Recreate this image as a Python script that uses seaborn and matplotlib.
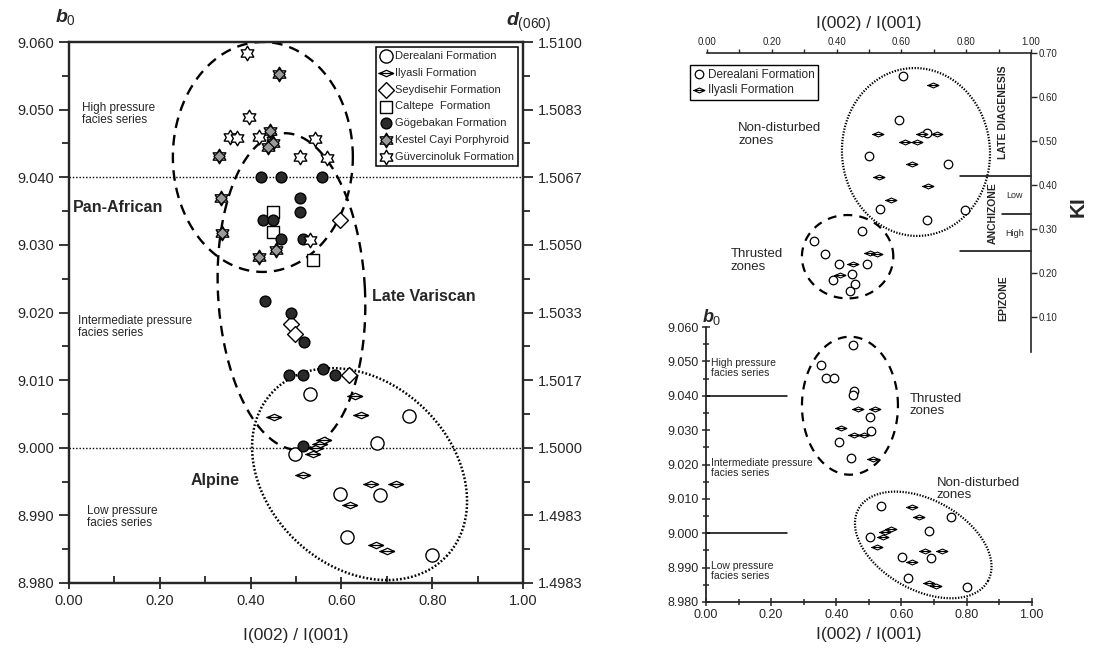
import numpy as np
import matplotlib
matplotlib.use('Agg')
import matplotlib.pyplot as plt
from matplotlib.path import Path
from matplotlib.ticker import MultipleLocator, FormatStrFormatter, FixedLocator, FixedFormatter
import seaborn as sns

sns.set_style('ticks')
plt.rcParams['font.family'] = ['Liberation Sans', 'DejaVu Sans']
plt.rcParams['mathtext.fontset'] = 'custom'
plt.rcParams['mathtext.it'] = 'Liberation Sans:italic:bold'
plt.rcParams['mathtext.rm'] = 'Liberation Sans'

# ---- left panel: b0 vs I(002)/I(001) ----
der_x = [0.531, 0.497, 0.598, 0.613, 0.748, 0.679, 0.685, 0.800]
der_y = [9.0080, 8.9991, 8.9932, 8.9868, 9.0047, 9.0007, 8.9930, 8.9842]
ily_x = [0.452, 0.515, 0.538, 0.545, 0.553, 0.562, 0.619, 0.630, 0.644, 0.666, 0.720, 0.676, 0.701]
ily_y = [9.0046, 8.9959, 8.9991, 9.0000, 9.0005, 9.0012, 8.9916, 9.0077, 9.0048, 8.9946, 8.9946, 8.9856, 8.9848]
sey_x = [0.597, 0.489, 0.497, 0.616]
sey_y = [9.0337, 9.0183, 9.0168, 9.0107]
cal_x = [0.449, 0.449, 0.537]
cal_y = [9.0349, 9.0319, 9.0277]
gog_x = [0.424, 0.468, 0.557, 0.509, 0.509, 0.427, 0.450, 0.468, 0.516, 0.432, 0.488,
         0.518, 0.484, 0.515, 0.559, 0.585, 0.515]
gog_y = [9.0401, 9.0401, 9.0401, 9.0370, 9.0349, 9.0337, 9.0337, 9.0308, 9.0308, 9.0217, 9.0199,
         9.0157, 9.0107, 9.0107, 9.0116, 9.0108, 9.0003]
kes_x = [0.462, 0.330, 0.443, 0.449, 0.438, 0.334, 0.337, 0.456, 0.419]
kes_y = [9.0552, 9.0431, 9.0468, 9.0451, 9.0444, 9.0370, 9.0318, 9.0293, 9.0282]
guv_x = [0.391, 0.397, 0.355, 0.371, 0.419, 0.541, 0.509, 0.569, 0.531]
guv_y = [9.0583, 9.0489, 9.0459, 9.0458, 9.0460, 9.0457, 9.0430, 9.0428, 9.0307]

b0_ticks = [8.980, 8.990, 9.000, 9.010, 9.020, 9.030, 9.040, 9.050, 9.060]
d060_labels = ['1.4983', '1.4983', '1.5000', '1.5017', '1.5033', '1.5050', '1.5067', '1.5083', '1.5100']

# ---- top right: KI vs I(002)/I(001) ----
tder_x = [0.606, 0.594, 0.499, 0.744, 0.534, 0.680, 0.795, 0.678, 0.478, 0.330, 0.365,
          0.406, 0.448, 0.388, 0.456, 0.441, 0.493]
tder_ki = [0.648, 0.547, 0.467, 0.448, 0.346, 0.320, 0.343, 0.519, 0.296, 0.273, 0.243,
           0.221, 0.197, 0.183, 0.174, 0.160, 0.221]
tily_x = [0.697, 0.528, 0.610, 0.647, 0.664, 0.709, 0.633, 0.530, 0.682, 0.569, 0.503,
          0.524, 0.450, 0.410]
tily_ki = [0.627, 0.517, 0.498, 0.498, 0.516, 0.516, 0.448, 0.419, 0.398, 0.367, 0.246,
           0.243, 0.221, 0.195]
ki_ticks = [0.10, 0.20, 0.30, 0.40, 0.50, 0.60, 0.70]

# ---- bottom right: b0 vs I(002)/I(001) ----
bder_x = [0.450, 0.352, 0.368, 0.393, 0.454, 0.450, 0.504, 0.506, 0.409, 0.444,
          0.536, 0.751, 0.684, 0.504, 0.602, 0.692, 0.620, 0.802]
bder_y = [9.0547, 9.0489, 9.0452, 9.0452, 9.0413, 9.0401, 9.0339, 9.0297, 9.0265, 9.0219,
          9.0079, 9.0046, 9.0007, 8.9990, 8.9932, 8.9928, 8.9870, 8.9843]
bily_x = [0.467, 0.520, 0.414, 0.454, 0.485, 0.512, 0.633, 0.653, 0.569, 0.551, 0.542,
          0.524, 0.671, 0.725, 0.633, 0.686, 0.706]
bily_y = [9.0362, 9.0362, 9.0306, 9.0287, 9.0287, 9.0217, 9.0076, 9.0046, 9.0013, 9.0004, 8.9990,
          8.9959, 8.9947, 8.9947, 8.9916, 8.9854, 8.9847]

# markers
lens = Path([(-1, 0), (0, 0.45), (1, 0), (0, -0.45), (-1, 0), (-1.15, 0), (1.0, 0)],
            [Path.MOVETO, Path.LINETO, Path.LINETO, Path.LINETO, Path.CLOSEPOLY,
             Path.MOVETO, Path.LINETO])
hexa = Path.unit_regular_star(6, 0.58)

W, H = 1093, 653
fig = plt.figure(figsize=(W / 100, H / 100), dpi=100)


def ring(ax, cx, cy, a, b, ang, ppx, ppy, dashes, lw=1.7):
    # ellipse with semi-axes a, b given in pixels, rotated by ang degrees
    t = np.linspace(0, 2 * np.pi, 400)
    r = np.deg2rad(ang)
    dx = a * np.cos(t) * np.cos(r) - b * np.sin(t) * np.sin(r)
    dy = a * np.cos(t) * np.sin(r) + b * np.sin(t) * np.cos(r)
    ax.plot(cx + dx / ppx, cy + dy / ppy, color='k', lw=lw, dashes=dashes, zorder=2)


def pts(ax, x, y, marker, s, fc='white', lw=1.0, label=None, z=3):
    sns.scatterplot(x=x, y=y, ax=ax, marker=marker, s=s, facecolor=fc, edgecolor='k',
                    linewidth=lw, label=label, legend=False, zorder=z)
    return ax.collections[-1]


# ================= left panel =================
ax = fig.add_axes([69 / W, 1 - 583 / H, 454 / W, 541 / H])
ax.set_xlim(0, 1)
ax.set_ylim(8.98, 9.06)
ppx, ppy = 454.0, 541 / 0.08

ax.axhline(9.04, color='k', lw=1.0, dashes=(1, 1.4), zorder=1)
ax.axhline(9.00, color='k', lw=1.0, dashes=(1, 1.4), zorder=1)
ring(ax, 0.427, 9.043, 90, 115, 0, ppx, ppy, (4.5, 3))
ring(ax, 0.490, 9.0231, 73.5, 158.5, 3, ppx, ppy, (4.5, 3))
ring(ax, 0.640, 8.9961, 119.6, 92.1, -43.4, ppx, ppy, (0.7, 0.8), lw=1.8)

h_der = pts(ax, der_x, der_y, 'o', 90, label='Derealani Formation')
h_ily = pts(ax, ily_x, ily_y, lens, 140, lw=0.9, label='Ilyasli Formation')
h_sey = pts(ax, sey_x, sey_y, 'D', 65, label='Seydisehir Formation')
h_cal = pts(ax, cal_x, cal_y, 's', 80, label='Caltepe  Formation')
h_gog = pts(ax, gog_x, gog_y, 'o', 60, fc='#2a2a2a', label='Gögebakan Formation')
h_kes1 = pts(ax, kes_x, kes_y, hexa, 110)
h_kes2 = pts(ax, kes_x, kes_y, 'D', 32, fc='#9a9a9a', lw=0.8, z=4)
h_guv = pts(ax, guv_x, guv_y, hexa, 110, label='Güvercinoluk Formation')

ax.legend([h_der, h_ily, h_sey, h_cal, h_gog, (h_kes1, h_kes2), h_guv],
          ['Derealani Formation', 'Ilyasli Formation', 'Seydisehir Formation',
           'Caltepe  Formation', 'Gögebakan Formation', 'Kestel Cayi Porphyroid',
           'Güvercinoluk Formation'],
          loc='upper right', bbox_to_anchor=(0.989, 0.991), fontsize=8, frameon=True,
          fancybox=False, edgecolor='k', framealpha=1, borderpad=0.35, labelspacing=0.62,
          handletextpad=0.25, handlelength=1.1, borderaxespad=0)
ax.get_legend().get_frame().set_linewidth(1.1)

ax.text(0.029, 9.0494, 'High pressure\nfacies series', fontsize=8.5, va='center', linespacing=1.0)
ax.text(0.009, 9.0355, 'Pan-African', fontsize=11.5, fontweight='bold', va='center')
ax.text(0.020, 9.0179, 'Intermediate pressure\nfacies series', fontsize=8.5, va='center', linespacing=1.0)
ax.text(0.667, 9.0224, 'Late Variscan', fontsize=11.5, fontweight='bold', va='center')
ax.text(0.267, 8.9951, 'Alpine', fontsize=11.5, fontweight='bold', va='center')
ax.text(0.040, 8.9898, 'Low pressure\nfacies series', fontsize=8.5, va='center', linespacing=1.0)

ax.xaxis.set_major_locator(MultipleLocator(0.2))
ax.xaxis.set_minor_locator(MultipleLocator(0.1))
ax.xaxis.set_major_formatter(FormatStrFormatter('%.2f'))
ax.yaxis.set_major_locator(FixedLocator(b0_ticks))
ax.yaxis.set_minor_locator(MultipleLocator(0.005))
ax.yaxis.set_major_formatter(FormatStrFormatter('%.3f'))
ax.tick_params(axis='x', which='major', direction='inout', length=8, width=1.3, labelsize=10.5, pad=4)
ax.tick_params(axis='x', which='minor', direction='in', length=5, width=1.3)
ax.tick_params(axis='y', which='major', direction='out', length=7, width=1.3, labelsize=10.5)
ax.tick_params(axis='y', which='minor', direction='out', length=5, width=1.3)
for sp in ax.spines.values():
    sp.set_linewidth(1.6)
ax.set_xlabel('I(002) / I(001)', fontsize=12.5, labelpad=14)

ax2 = ax.twinx()
ax2.set_ylim(ax.get_ylim())
ax2.yaxis.set_major_locator(FixedLocator(b0_ticks))
ax2.yaxis.set_major_formatter(FixedFormatter(d060_labels))
ax2.yaxis.set_minor_locator(MultipleLocator(0.005))
ax2.tick_params(axis='y', which='major', direction='out', length=7, width=1.3, labelsize=10.5)
ax2.tick_params(axis='y', which='minor', direction='out', length=5, width=1.3)
for sp in ax2.spines.values():
    sp.set_linewidth(1.6)

fig.text(65 / W, 1 - 17 / H, r'$b_0$', fontsize=14, ha='center', va='center')
fig.text(528 / W, 1 - 22 / H, r'$d_{(060)}$', fontsize=14, ha='center', va='center')

# ================= top right panel =================
axt = fig.add_axes([707 / W, 1 - 361 / H, 324 / W, 308 / H])
axt.patch.set_alpha(0)
axt.set_xlim(0, 1)
axt.set_ylim(0, 0.70)
tpx, tpy = 324.0, 308 / 0.70
ring(axt, 0.645, 0.475, 74, 84, 4, tpx, tpy, (0.6, 0.7), lw=1.6)
ring(axt, 0.434, 0.237, 45.7, 41.7, 0, tpx, tpy, (4.0, 3.2), lw=1.6)

t_der = pts(axt, tder_x, tder_ki, 'o', 38, lw=0.9)
t_ily = pts(axt, tily_x, tily_ki, lens, 80, lw=0.8)
axt.legend([t_der, t_ily], ['Derealani Formation', 'Ilyasli Formation'], loc='upper left',
           bbox_to_anchor=(690 / W, 1 - 65 / H), bbox_transform=fig.transFigure, fontsize=8.5,
           frameon=True, fancybox=False, edgecolor='k', framealpha=1, borderpad=0.3,
           labelspacing=0.3, handletextpad=0.2, handlelength=1.0, borderaxespad=0)
axt.get_legend().get_frame().set_linewidth(1.0)

axt.text(0.096, 0.515, 'Non-disturbed\nzones', fontsize=9.5, va='center', linespacing=1.05)
axt.text(0.074, 0.228, 'Thrusted\nzones', fontsize=9.5, va='center', linespacing=1.05)
axt.plot([0.78, 1.0], [0.42, 0.42], color='k', lw=1.1, clip_on=False)
axt.plot([0.91, 1.0], [0.335, 0.335], color='k', lw=1.1, clip_on=False)
axt.plot([0.78, 1.0], [0.25, 0.25], color='k', lw=1.1, clip_on=False)
axt.text(0.914, 0.565, 'LATE DIAGENESIS', fontsize=7.5, fontweight='bold', rotation=90,
         ha='center', va='center')
axt.text(0.883, 0.337, 'ANCHIZONE', fontsize=7.5, fontweight='bold', rotation=90,
         ha='center', va='center')
axt.text(0.950, 0.377, 'Low', fontsize=6.5, ha='center', va='center')
axt.text(0.950, 0.289, 'High', fontsize=6.5, ha='center', va='center')
axt.text(0.914, 0.142, 'EPIZONE', fontsize=7.5, fontweight='bold', rotation=90,
         ha='center', va='center')

axt.spines['left'].set_visible(False)
axt.spines['bottom'].set_visible(False)
axt.spines['right'].set_bounds(0.02, 0.70)
axt.xaxis.tick_top()
axt.xaxis.set_label_position('top')
axt.yaxis.tick_right()
axt.yaxis.set_label_position('right')
axt.xaxis.set_major_locator(MultipleLocator(0.2))
axt.xaxis.set_minor_locator(MultipleLocator(0.1))
axt.xaxis.set_major_formatter(FormatStrFormatter('%.2f'))
axt.yaxis.set_major_locator(FixedLocator(ki_ticks))
axt.yaxis.set_major_formatter(FormatStrFormatter('%.2f'))
axt.tick_params(axis='x', which='both', direction='out', length=3, width=1.0, labelsize=7, pad=1.5)
axt.tick_params(axis='y', which='both', direction='out', length=4, width=1.0, labelsize=7, pad=1.5)
for sp in axt.spines.values():
    sp.set_linewidth(1.2)
axt.set_xlabel('I(002) / I(001)', fontsize=12.5, labelpad=6)
axt.set_ylabel('KI', fontsize=15, fontweight='bold', labelpad=8)

# ================= bottom right panel =================
axb = fig.add_axes([706 / W, 1 - 602 / H, 325.7 / W, 275 / H])
axb.patch.set_alpha(0)
axb.set_xlim(0, 1)
axb.set_ylim(8.98, 9.06)
bpx, bpy = 325.7, 275 / 0.08
ring(axb, 0.442, 9.0371, 48, 69, 0, bpx, bpy, (4.0, 3.2), lw=1.6)
ring(axb, 0.667, 8.9966, 74.1, 44.9, -29.2, bpx, bpy, (0.6, 0.7), lw=1.6)
axb.plot([0, 0.25], [9.04, 9.04], color='k', lw=1.1)
axb.plot([0, 0.25], [9.00, 9.00], color='k', lw=1.1)

pts(axb, bder_x, bder_y, 'o', 38, lw=0.9)
pts(axb, bily_x, bily_y, lens, 80, lw=0.8)

axb.text(0.015, 9.0481, 'High pressure\nfacies series', fontsize=7.5, va='center', linespacing=1.0)
axb.text(0.015, 9.0190, 'Intermediate pressure\nfacies series', fontsize=7.5, va='center', linespacing=1.0)
axb.text(0.015, 8.9890, 'Low pressure\nfacies series', fontsize=7.5, va='center', linespacing=1.0)
axb.text(0.626, 9.0373, 'Thrusted\nzones', fontsize=9.5, va='center', linespacing=1.05)
axb.text(0.708, 9.0129, 'Non-disturbed\nzones', fontsize=9.5, va='center', linespacing=1.05)

axb.spines['top'].set_visible(False)
axb.spines['right'].set_visible(False)
axb.xaxis.set_major_locator(MultipleLocator(0.2))
axb.xaxis.set_minor_locator(MultipleLocator(0.1))
axb.xaxis.set_major_formatter(FormatStrFormatter('%.2f'))
axb.yaxis.set_major_locator(FixedLocator(b0_ticks))
axb.yaxis.set_minor_locator(MultipleLocator(0.005))
axb.yaxis.set_major_formatter(FormatStrFormatter('%.3f'))
axb.tick_params(axis='both', which='major', direction='inout', length=6, width=1.1, labelsize=9, pad=2)
axb.tick_params(axis='both', which='minor', direction='inout', length=4, width=1.1)
for sp in axb.spines.values():
    sp.set_linewidth(1.3)
axb.set_xlabel('I(002) / I(001)', fontsize=12.5, labelpad=4)
fig.text(712 / W, 1 - 317 / H, r'$b_0$', fontsize=13, ha='center', va='center')

fig.savefig('out.png', dpi=100)
